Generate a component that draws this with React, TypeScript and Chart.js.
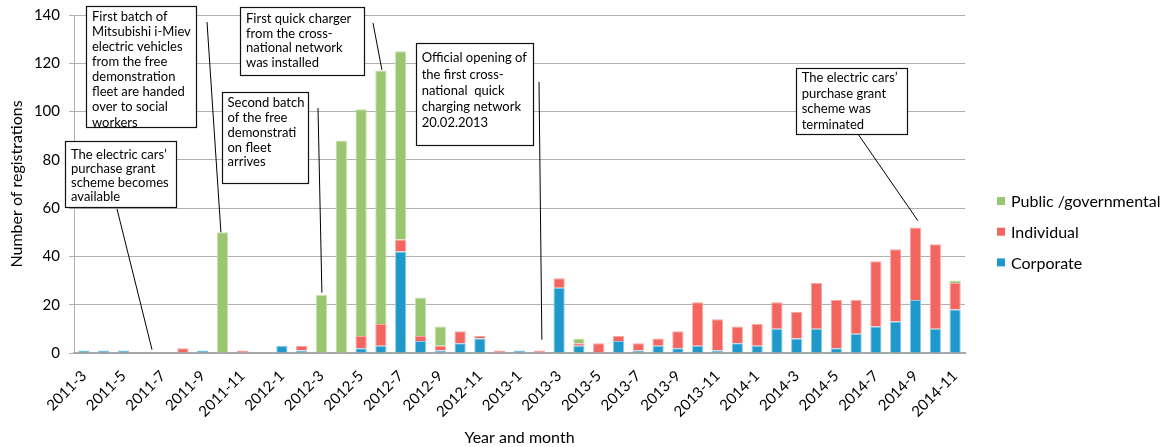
import React, { useEffect, useRef } from 'react';
import { Chart, registerables } from 'chart.js';

Chart.register(...registerables);

// ---- data ----
const months = [
  '2011-3', '2011-4', '2011-5', '2011-6', '2011-7', '2011-8', '2011-9', '2011-10', '2011-11', '2011-12',
  '2012-1', '2012-2', '2012-3', '2012-4', '2012-5', '2012-6', '2012-7', '2012-8', '2012-9', '2012-10', '2012-11', '2012-12',
  '2013-1', '2013-2', '2013-3', '2013-4', '2013-5', '2013-6', '2013-7', '2013-8', '2013-9', '2013-10', '2013-11', '2013-12',
  '2014-1', '2014-2', '2014-3', '2014-4', '2014-5', '2014-6', '2014-7', '2014-8', '2014-9', '2014-10', '2014-11',
];

const corporate = [
  1, 1, 1, 0, 0, 0, 1, 0, 0, 0,
  3, 1, 0, 0, 2, 3, 42, 5, 1, 4, 6, 0,
  1, 0, 27, 3, 0, 5, 1, 3, 2, 3, 1, 4,
  3, 10, 6, 10, 2, 8, 11, 13, 22, 10, 18,
];

const individual = [
  0, 0, 0, 0, 0, 2, 0, 0, 1, 0,
  0, 2, 0, 0, 5, 9, 5, 2, 2, 5, 1, 1,
  0, 1, 4, 1, 4, 2, 3, 3, 7, 18, 13, 7,
  9, 11, 11, 19, 20, 14, 27, 30, 30, 35, 11,
];

const publicGov = [
  0, 0, 0, 0, 0, 0, 0, 50, 0, 0,
  0, 0, 24, 88, 94, 105, 78, 16, 8, 0, 0, 0,
  0, 0, 0, 2, 0, 0, 0, 0, 0, 0, 0, 0,
  0, 0, 0, 0, 0, 0, 0, 0, 0, 0, 1,
];

const yTicks = [0, 20, 40, 60, 80, 100, 120, 140];

const seriesNames = ['Corporate', 'Individual', 'Public /governmental'];
const seriesValues = [corporate, individual, publicGov];

// annotation texts and the data point each leader line points to
const noteTexts = [
  ['The electric cars\u2019', 'purchase grant', 'scheme becomes', 'available'],
  ['First batch of', 'Mitsubishi i-Miev', 'electric vehicles', 'from the free', 'demonstration', 'fleet are handed', 'over to social', 'workers'],
  ['Second batch', 'of the free', 'demonstrati', 'on fleet', 'arrives'],
  ['First quick charger', 'from the cross-', 'national network', 'was installed'],
  ['Official opening of', 'the first cross-', 'national  quick', 'charging network', '20.02.2013'],
  ['The electric cars\u2019', 'purchase grant', 'scheme was', 'terminated'],
];
const noteAnchorIndex = [3.44, 6.92, 12.02, 15.05, 23.13, 42.12];
const noteAnchorValue = [1.4, 50, 25, 117.3, 5.5, 54.8];

// ---- styling / layout ----
const seriesColors = ['#1F98CB', '#F2665F', '#99C66F'];
const seriesBorders = ['#8CCBE6', '#F8A7A2', '#C6E0AC'];
const FONT = 'Lato, "Open Sans", "Liberation Sans", sans-serif';

const noteLayout = [
  { x: 65, y: 141, w: 111, h: 66, tx: 71, ty: 155, lh: 14, sx: 117, sy: 209 },
  { x: 86, y: 6, w: 110, h: 121, tx: 92, ty: 16.7, lh: 15.1, sx: 207, sy: 22 },
  { x: 222, y: 92, w: 86, h: 91, tx: 227.5, ty: 102.7, lh: 14.9, sx: 318, sy: 108 },
  { x: 240, y: 7, w: 124, h: 68, tx: 246, ty: 19, lh: 14.6, sx: 373, sy: 23 },
  { x: 416, y: 43, w: 117, h: 102, tx: 421.7, ty: 58.3, lh: 16.2, sx: 539, sy: 82 },
  { x: 796, y: 68, w: 111, h: 66, tx: 801.7, ty: 77.7, lh: 15.8, sx: 858, sy: 134 },
];

const overlayPlugin = {
  id: 'overlay',
  afterDraw(chart: any) {
    const ctx = chart.ctx;
    const xs = chart.scales.x;
    const ys = chart.scales.y;
    ctx.save();
    // leader lines
    ctx.strokeStyle = '#000';
    ctx.lineWidth = 1;
    noteLayout.forEach((b, i) => {
      ctx.beginPath();
      ctx.moveTo(b.sx, b.sy);
      ctx.lineTo(xs.getPixelForValue(noteAnchorIndex[i]), ys.getPixelForValue(noteAnchorValue[i]));
      ctx.stroke();
    });
    // boxes
    noteLayout.forEach((b, i) => {
      ctx.fillStyle = '#fff';
      ctx.fillRect(b.x, b.y, b.w, b.h);
      ctx.strokeStyle = '#111';
      ctx.lineWidth = 1.2;
      ctx.strokeRect(b.x + 0.5, b.y + 0.5, b.w, b.h);
      ctx.fillStyle = '#000';
      ctx.font = `13px ${FONT}`;
      ctx.textAlign = 'left';
      ctx.textBaseline = 'middle';
      noteTexts[i].forEach((line, k) => {
        ctx.fillText(line, b.tx, b.ty + k * b.lh);
      });
    });
    // legend (reverse order, top = last dataset)
    const ds = chart.data.datasets;
    for (let row = 0; row < ds.length; row++) {
      const d = ds[ds.length - 1 - row];
      const cy = 201 + row * 30.7;
      ctx.fillStyle = d.backgroundColor;
      ctx.fillRect(997, cy - 4, 8, 8);
      ctx.fillStyle = '#000';
      ctx.font = `16px ${FONT}`;
      ctx.textAlign = 'left';
      ctx.textBaseline = 'middle';
      ctx.fillText(d.label, 1011, cy + 1);
    }
    ctx.restore();
  },
};

export default function App() {
  const ref = useRef<HTMLCanvasElement | null>(null);

  useEffect(() => {
    if (!ref.current) return;
    Chart.defaults.font.family = FONT;
    Chart.defaults.color = '#000';
    const chart = new Chart(ref.current, {
      type: 'bar',
      data: {
        labels: months,
        datasets: seriesNames.map((name, i) => ({
          label: name,
          data: seriesValues[i],
          backgroundColor: seriesColors[i],
          borderColor: seriesBorders[i],
          borderWidth: 1,
          categoryPercentage: 1,
          barPercentage: 0.57,
        })),
      },
      options: {
        responsive: false,
        animation: false,
        layout: { padding: { left: 0, right: 200, top: 15, bottom: 0 } },
        plugins: {
          legend: { display: false },
          tooltip: { enabled: false },
        },
        scales: {
          x: {
            stacked: true,
            offset: true,
            grid: { display: false, drawTicks: false },
            border: { display: true, color: '#A8A8A8', width: 2 },
            ticks: {
              autoSkip: false,
              maxRotation: 45,
              minRotation: 45,
              padding: 14,
              font: { size: 15 },
              callback: (_v: any, i: number) => (i % 2 === 0 ? months[i] : ''),
            },
            title: {
              display: true,
              text: 'Year and month',
              font: { size: 16 },
              padding: { top: 0, bottom: 0 },
            },
            afterFit: (s: any) => {
              s.height = 94;
              s.paddingLeft = 0;
              s.paddingRight = 0;
            },
          },
          y: {
            stacked: true,
            min: 0,
            max: 140,
            afterBuildTicks: (s: any) => {
              s.ticks = yTicks.map((v) => ({ value: v }));
            },
            ticks: { padding: 9, font: { size: 15 } },
            grid: { color: '#B0B0B0', lineWidth: 1, drawTicks: true, tickLength: 5, tickColor: '#B0B0B0' },
            border: { display: true, color: '#B0B0B0', width: 1 },
            title: {
              display: true,
              text: 'Number of registrations',
              font: { size: 16 },
              padding: { top: 7, bottom: 0 },
            },
            afterFit: (s: any) => {
              s.width = 74;
              s.paddingTop = 0;
              s.paddingBottom = 0;
            },
          },
        },
      },
      plugins: [overlayPlugin],
    });
    return () => chart.destroy();
  }, []);

  return (
    <div style={{ position: 'fixed', left: 0, top: 0, width: 1165, height: 447, background: '#fff' }}>
      <canvas ref={ref} width={1165} height={447} style={{ width: 1165, height: 447 }} />
    </div>
  );
}
